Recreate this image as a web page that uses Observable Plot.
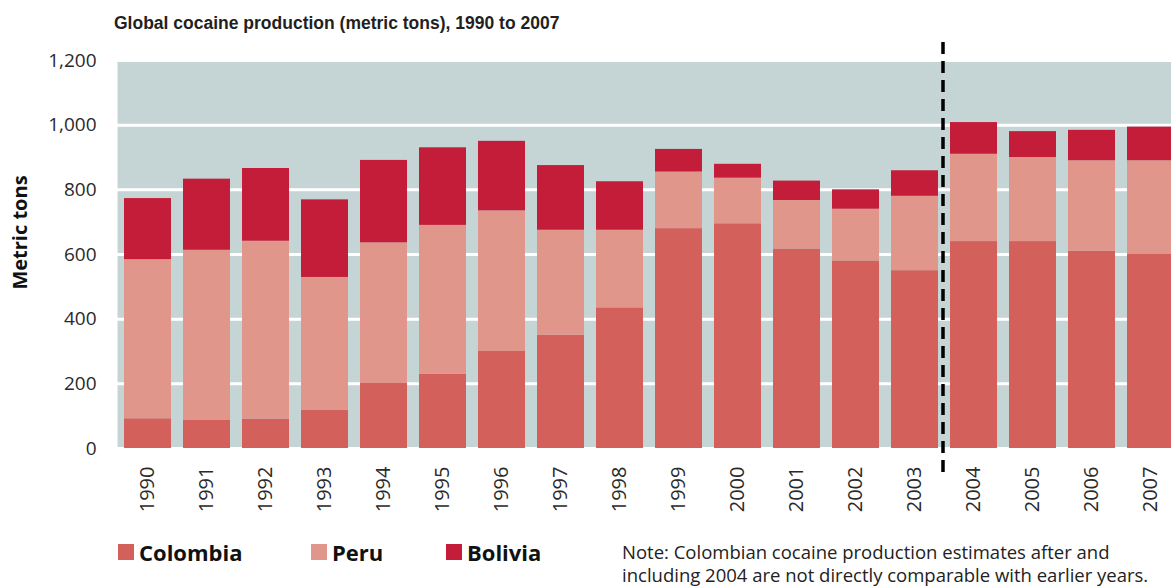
<!DOCTYPE html>
<html>
<head>
<meta charset="utf-8">
<script src="https://cdn.jsdelivr.net/npm/d3@7"></script>
<script src="https://cdn.jsdelivr.net/npm/@observablehq/plot@0.6"></script>
<style>
  html, body { margin: 0; padding: 0; background: #fff; }
  body { width: 1171px; height: 588px; overflow: hidden; position: relative; }
  #title { height: 40px; box-sizing: border-box; padding: 12px 0 0 114px;
           font: bold 17.5px "Liberation Sans", Arial, sans-serif; color: #231f20; line-height: 22px; }
  #chart svg { display: block; }
  #legend { position: relative; height: 68px; font-family: "Open Sans", sans-serif; color: #111; }
  .item { position: absolute; top: 17px; display: flex; align-items: center; font-weight: bold; font-size: 22px; }
  .sw { width: 16px; height: 16px; margin-right: 5px; }
  #note { position: absolute; left: 622px; top: 20px; font-size: 18.5px; line-height: 23px; color: #222; }
</style>
</head>
<body>
<div id="title">Global cocaine production (metric tons), 1990 to 2007</div>
<div id="chart"></div>
<div id="legend"></div>
<script>
const years = ["1990","1991","1992","1993","1994","1995","1996","1997","1998","1999","2000","2001","2002","2003","2004","2005","2006","2007"];
const colombia = [92, 88, 91, 119, 201, 230, 300, 350, 435, 680, 695, 617, 580, 550, 640, 640, 610, 600];
const peru     = [492, 525, 550, 410, 435, 460, 435, 325, 240, 175, 141, 150, 160, 230, 270, 260, 280, 290];
const bolivia  = [189, 220, 225, 240, 255, 240, 215, 200, 150, 70, 43, 60, 60, 79, 98, 80, 94, 104];
const countries = ["Colombia", "Peru", "Bolivia"];
const colors = ["#d4605c", "#e0968b", "#c41d39"];
const yTicks = [0, 200, 400, 600, 800, 1000, 1200];
const breakYear = "2004";
const yLabel = "Metric tons";

const series = [colombia, peru, bolivia];
const data = [];
years.forEach((y, i) => countries.forEach((c, k) => data.push({year: y, country: c, value: series[k][i]})));

const chart = Plot.plot({
  width: 1171,
  height: 480,
  marginTop: 20,
  marginBottom: 72,
  marginLeft: 117,
  marginRight: 0,
  style: {fontFamily: "'Open Sans', sans-serif", fontSize: "20px", color: "#2a2a2a", background: "transparent", overflow: "visible"},
  x: {domain: years, range: [112, 1186], padding: 0.2, label: null},
  y: {domain: [0, 1200], label: null},
  color: {domain: countries, range: colors},
  marks: [
    Plot.frame({fill: "#c5d5d5", stroke: null}),
    Plot.gridY(yTicks, {stroke: "#fff", strokeOpacity: 1, strokeWidth: 3}),
    Plot.barY(data, {x: "year", y: "value", fill: "country", order: countries}),
    Plot.ruleX([breakYear], {x: d => d, dx: -31, stroke: "#000", strokeWidth: 3.5, strokeDasharray: "12,7", insetTop: -18, insetBottom: -30}),
    Plot.axisY(yTicks, {tickSize: 0, tickPadding: 21, tickFormat: d3.format(","), label: null, fontSize: 19}),
    Plot.axisX({tickSize: 0, tickPadding: 18, tickRotate: -90, label: null, fontSize: 20}),
    Plot.text([yLabel], {frameAnchor: "left", textAnchor: "middle", text: d => d, rotate: -90, dx: -97, dy: -22, fontWeight: "bold", fontSize: 20, fill: "#111"})
  ]
});
document.getElementById("chart").append(chart);

const legend = document.getElementById("legend");
const legendX = [118, 311, 446];
countries.forEach((c, i) => {
  const it = document.createElement("div");
  it.className = "item";
  it.style.left = legendX[i] + "px";
  const sw = document.createElement("span");
  sw.className = "sw";
  sw.style.background = colors[i];
  it.append(sw, document.createTextNode(c));
  legend.append(it);
});
const note = document.createElement("div");
note.id = "note";
note.innerHTML = "Note: Colombian cocaine production estimates after and<br>including 2004 are not directly comparable with earlier years.";
legend.append(note);
</script>
</body>
</html>
